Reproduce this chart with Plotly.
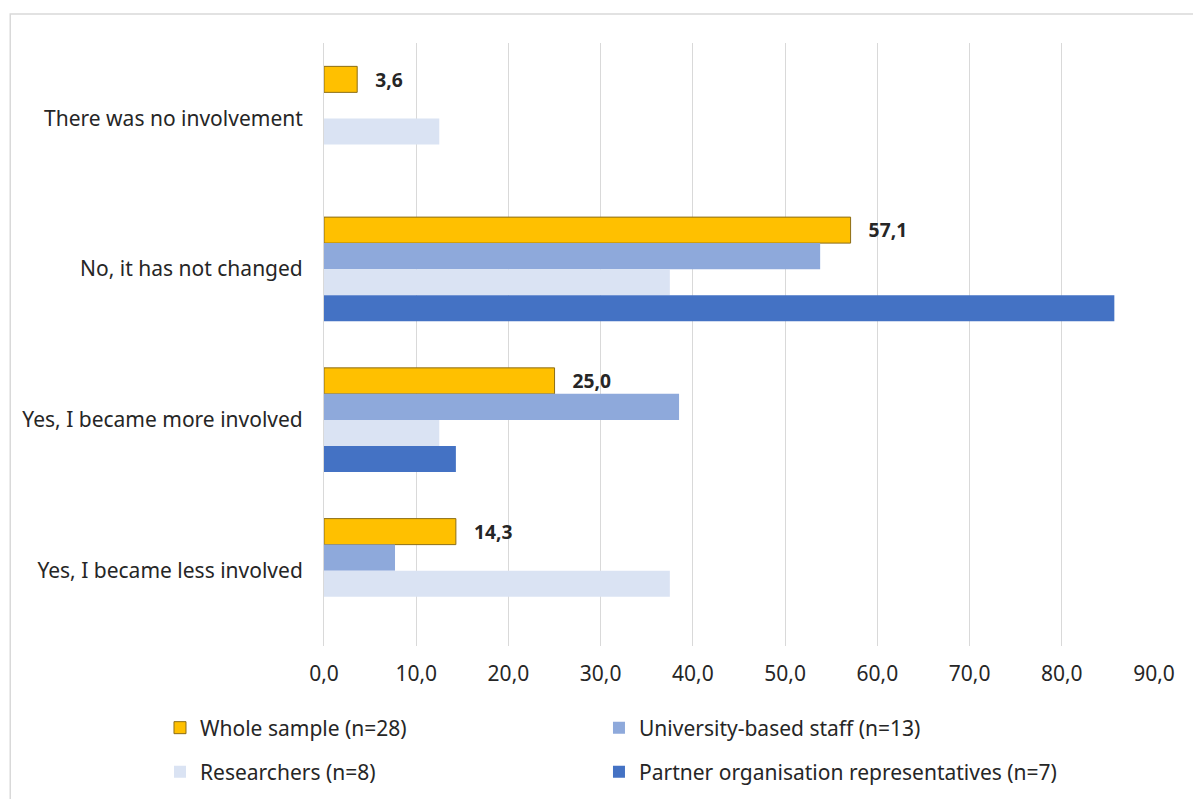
import plotly.graph_objects as go

# Survey answers (percent of respondents in each group)
categories = [
    "There was no involvement",
    "No, it has not changed",
    "Yes, I became more involved",
    "Yes, I became less involved",
]
whole_sample = [3.6, 57.1, 25.0, 14.3]
university_staff = [0.0, 53.8, 38.5, 7.7]
researchers = [12.5, 37.5, 12.5, 37.5]
partner_reps = [0.0, 85.7, 14.3, 0.0]

series_names = [
    "Whole sample (n=28)",
    "University-based staff (n=13)",
    "Researchers (n=8)",
    "Partner organisation representatives (n=7)",
]
tick_values = [0, 10, 20, 30, 40, 50, 60, 70, 80, 90]

FONT = "Noto Sans"
TEXT = "#262626"
FS = 21

fig = go.Figure()

fig.add_trace(go.Bar(
    y=categories, x=whole_sample, orientation="h", name=series_names[0],
    marker=dict(color="#FFC000", line=dict(color="#8C6D16", width=1)),
    texttemplate="\u00a0\u00a0\u00a0%{x:.1f}", textposition="outside",
    cliponaxis=False,
    textfont=dict(family=FONT, size=20, color=TEXT, weight="bold"),
    legend="legend",
))
fig.add_trace(go.Bar(
    y=categories, x=university_staff, orientation="h", name=series_names[1],
    marker=dict(color="#8EA9DB", line=dict(width=0)), legend="legend2",
))
fig.add_trace(go.Bar(
    y=categories, x=researchers, orientation="h", name=series_names[2],
    marker=dict(color="#DAE3F3", line=dict(width=0)), legend="legend3",
))
fig.add_trace(go.Bar(
    y=categories, x=partner_reps, orientation="h", name=series_names[3],
    marker=dict(color="#4472C4", line=dict(width=0)), legend="legend4",
))

legend_style = dict(
    orientation="h", xanchor="left", yanchor="middle",
    font=dict(family=FONT, size=FS, color=TEXT),
    bgcolor="rgba(0,0,0,0)",
)
col1, col2 = -0.1976, 0.3313
row1, row2 = -0.136, -0.209

fig.update_layout(
    width=1193, height=799,
    margin=dict(l=324, r=39, t=43, b=153, autoexpand=False),
    paper_bgcolor="white", plot_bgcolor="white",
    barmode="group", bargap=0.31, bargroupgap=0,
    separators=",.",
    font=dict(family=FONT, size=FS, color=TEXT),
    xaxis=dict(
        range=[0, 90], tickvals=tick_values, tickformat=".1f",
        showgrid=True, gridcolor="#D9D9D9", gridwidth=1,
        zeroline=False, showline=False, ticks="",
        ticklabelstandoff=13,
        tickfont=dict(family=FONT, size=FS, color=TEXT),
    ),
    yaxis=dict(
        autorange="reversed", showgrid=False, zeroline=False,
        showline=True, linecolor="#D9D9D9", linewidth=1, ticks="",
        ticklabelstandoff=16,
        tickfont=dict(family=FONT, size=FS, color=TEXT),
    ),
    legend=dict(x=col1, y=row1, **legend_style),
    legend2=dict(x=col2, y=row1, **legend_style),
    legend3=dict(x=col1, y=row2, **legend_style),
    legend4=dict(x=col2, y=row2, **legend_style),
    showlegend=True,
    shapes=[dict(
        type="rect", xref="paper", yref="paper",
        x0=-0.378, x1=1.06, y0=-0.28, y1=1.048,
        line=dict(color="#D9D9D9", width=1.5), layer="below",
    )],
)

fig.write_html("out.html")
